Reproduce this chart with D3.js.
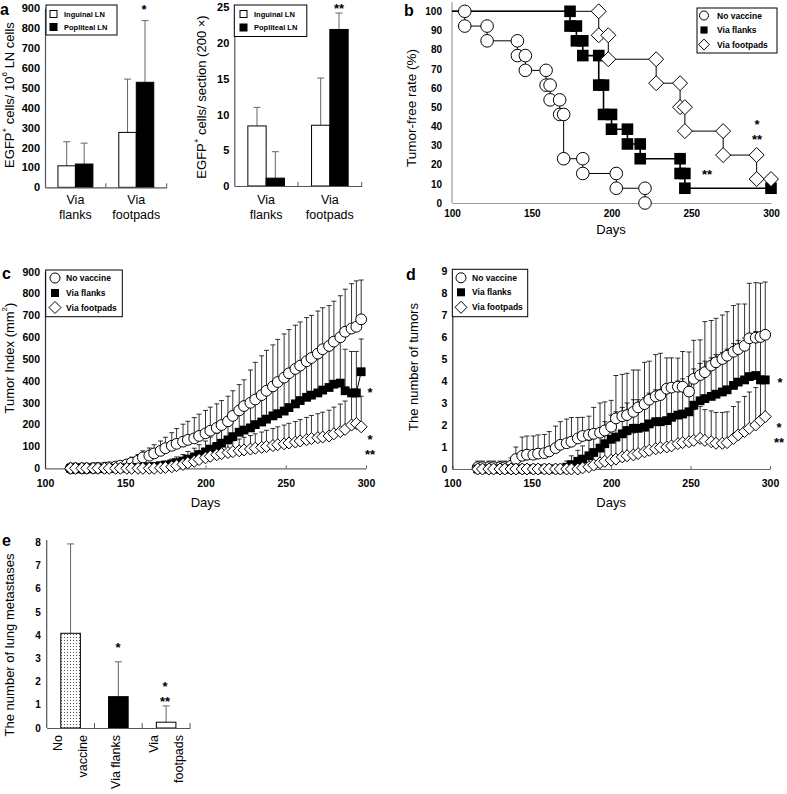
<!DOCTYPE html>
<html><head><meta charset="utf-8">
<script src="https://cdn.jsdelivr.net/npm/d3@7/dist/d3.min.js"></script>
<style>
html,body{margin:0;padding:0;background:#fff;}
svg text{font-family:"Liberation Sans",Arial,Helvetica,sans-serif;}
</style></head><body>
<svg id="fig" width="787" height="794"></svg>
<script>
// ================= DATA =================
// Panel a
const lnGroups = ["Via flanks", "Via footpads"];
const lnSeries = ["Inguinal LN", "Popliteal LN"];
const a1Inguinal = [108, 276];
const a1InguinalSD = [121, 268];
const a1Popliteal = [117, 528];
const a1PoplitealSD = [105, 310];
const a1Ticks = [0, 100, 200, 300, 400, 500, 600, 700, 800, 900];
const a2Inguinal = [8.4, 8.5];
const a2InguinalSD = [2.6, 6.6];
const a2Popliteal = [1.1, 21.9];
const a2PoplitealSD = [3.7, 2.3];
const a2Ticks = [0, 5, 10, 15, 20, 25];

// Panel b (Kaplan-Meier: day of each drop, tumor-free % after it)
const groupNames = ["No vaccine", "Via flanks", "Via footpads"];
const bNoVacDays = [108, 122, 141, 146, 159, 161.5, 167.5, 170, 182, 203, 221];
const bNoVacRate = [92.3, 84.6, 76.9, 69.2, 61.5, 53.8, 46.2, 23.1, 15.4, 7.7, 0];
const bFlankDays = [174, 178, 182, 192, 195, 200, 210, 218, 243, 246];
const bFlankRate = [92.3, 84.6, 76.9, 61.5, 46.2, 38.5, 30.8, 23.1, 15.4, 7.7];
const bFootDays = [192, 198, 228, 243, 246, 270, 291];
const bFootRate = [87.5, 75, 62.5, 50, 37.5, 25, 12.5];
const bEndDay = 300;
const dayTicks = [100, 150, 200, 250, 300];
const bTicksY = [0, 10, 20, 30, 40, 50, 60, 70, 80, 90, 100];

// Panels c, d (measurement days)
const tcDays = [116,119,123,126,130,133,137,140,144,147,151,154,158,161,165,168,172,175,179,182,186,189,193,196,200,203,207,210,214,217,221,224,228,231,235,238,242,245,249,252,256,259,263,266,270,273,277,280,284,287,291,294,297];
// c: tumor index (mm2)
const cNoVac = [0,0,0,0,1,2,3,5,8,12, 18,25,35,50,58,68,80,92,103,112, 122,130,137,148,160,172,185,198,215,240, 265,285,300,315,335,355,375,395,415,435, 455,470,490,505,525,545,560,580,600,625, 640,648,682];
const cNoVacSD = [0,0,0,0,3,5,8,10,15,18, 22,26,28,30,35,40,45,50,60,70, 80,85,95,100,105,108,110,112,115,115, 118,120,150,170,180,185,190,195,200,200, 200,200,200,195,195,190,185,185,190,195, 205,210,180];
const cFlank = [0,0,0,0,0,0,0,0,0,1, 2,3,4,5,7,9,12,15,20,26, 33,42,52,63,75,88,100,115,130,145, 165,175,185,200,212,225,240,250,262,278, 295,310,325,335,345,358,370,385,390,355, 345,345,442];
const cFlankSD = [0,0,0,0,0,0,0,0,0,2, 4,5,6,8,10,12,15,18,22,26, 30,35,40,45,50,55,60,65,72,80, 88,95,100,108,115,120,128,135,140,145, 150,155,160,165,170,175,180,185,190,190, 190,190,150];
const cFoot = [0,0,0,0,0,0,0,0,0,0, 0,0,0,0,0,0,2,4,7,12, 18,25,32,40,48,55,62,67,72,76, 80,84,88,92,96,100,104,108,112,116, 120,125,131,136,140,143,148,158,168,178, 198,205,190];
const cFootSD = [0,0,0,0,0,0,0,0,0,0, 0,0,0,0,0,0,3,5,8,10, 14,18,22,26,30,34,38,42,46,50, 54,58,62,66,70,74,78,82,86,90, 94,98,102,106,110,114,118,122,126,130, 135,140,140];
const cTicksY = [0, 100, 200, 300, 400, 500, 600, 700, 800, 900];
// d: number of tumors
const dNoVac = [0.08,0.08,0.08,0.08,0.08,0.08,0.15,0.45,0.6,0.65, 0.65,0.7,0.72,0.8,0.95,1.1,1.17,1.24,1.39,1.5, 1.55,1.6,1.65,1.75,1.92,2.3,2.4,2.45,2.6,2.8, 2.95,3.15,3.3,3.36,3.65,3.7,3.74,3.74,3.52,4.1, 4.27,4.4,4.7,4.85,5.0,5.15,5.33,5.45,5.6,5.94, 5.97,6.0,6.1];
const dNoVacSD = [0.28,0.28,0.28,0.28,0.28,0.28,0.35,0.55,0.85,0.85, 0.85,0.85,0.85,0.9,1.0,1.05,1.1,1.1,0.95,0.85, 0.85,1.2,1.35,1.3,1.2,1.95,1.9,1.9,1.9,1.7, 1.9,1.75,1.9,1.9,1.4,1.35,1.3,1.6,1.8,1.75, 1.6,2.3,2.05,2.0,2.0,2.0,2.1,2.05,1.9,2.5, 2.5,2.45,2.4];
const dFlank = [0,0,0,0,0,0,0,0,0,0, 0,0,0,0,0,0,0.08,0.2,0.35,0.45, 0.6,0.75,0.95,1.15,1.35,1.45,1.6,1.75,1.85,1.85, 1.9,2.05,2.15,2.15,2.2,2.35,2.45,2.5,2.6,2.9, 3.1,3.2,3.3,3.4,3.5,3.6,3.8,3.95,4.05,4.2, 4.25,4.05,4.05];
const dFlankSD = [0,0,0,0,0,0,0,0,0,0, 0,0,0,0,0,0,0.28,0.4,0.5,0.6, 0.7,0.8,0.9,1.0,1.1,1.15,1.2,1.25,1.3,1.3, 1.35,1.4,1.45,1.45,1.5,1.5,1.55,1.6,1.6,1.65, 1.7,1.7,1.75,1.8,1.8,1.85,1.9,1.9,1.9,1.95, 2.0,2.0,2.0];
const dFoot = [0,0,0,0,0,0,0,0,0,0, 0,0,0,0,0,0,0,0,0,0.05, 0.1,0.18,0.28,0.35,0.4,0.45,0.55,0.6,0.64,0.7, 0.78,0.85,0.92,0.97,1.0,1.05,1.15,1.2,1.24,1.3, 1.39,1.3,1.24,1.17,1.17,1.2,1.39,1.55,1.7,1.85, 2.0,2.2,2.38];
const dFootSD = [0,0,0,0,0,0,0,0,0,0, 0,0,0,0,0,0,0,0,0,0.35, 0.5,0.6,0.7,0.75,0.8,0.85,0.9,0.95,1.0,1.05, 1.1,1.15,1.2,1.25,1.3,1.3,1.35,1.4,1.4,1.4, 1.45,1.4,1.4,1.4,1.4,1.4,1.45,1.5,1.6,1.65, 1.7,1.75,1.8];
const dTicksY = [0, 1, 2, 3, 4, 5, 6, 7, 8, 9];

// Panel e
const eGroups = ["No vaccine", "Via flanks", "Via footpads"];
const eLabels = [["No", "vaccine"], ["Via flanks"], ["Via", "footpads"]];
const eMets = [4.08, 1.35, 0.25];
const eMetsSD = [3.85, 1.5, 0.7];
const eTicksY = [0, 1, 2, 3, 4, 5, 6, 7, 8];

// ================= DRAWING =================
const svg = d3.select("#fig");
const defs = svg.append("defs");
const pat = defs.append("pattern").attr("id", "dots").attr("width", 3).attr("height", 3)
  .attr("patternUnits", "userSpaceOnUse");
pat.append("rect").attr("width", 3).attr("height", 3).attr("fill", "#fff");
pat.append("rect").attr("x", 1).attr("y", 1).attr("width", 1).attr("height", 1).attr("fill", "#555");

function styleAxis(g, color, fs) {
  g.attr("font-size", fs).attr("font-weight", "bold").attr("font-family", null);
  g.select(".domain").attr("stroke", color).attr("stroke-width", 1.2);
  g.selectAll(".tick line").attr("stroke", color);
  g.selectAll(".tick text").attr("fill", "#000");
}
function letter(t, x, y) {
  svg.append("text").attr("x", x).attr("y", y).attr("font-size", 16).attr("font-weight", "bold").text(t);
}
// significance marks; a second mark is stacked below the first
function stars(lines, cx, cy) {
  lines.forEach((s, i) => {
    svg.append("text").attr("x", cx).attr("y", cy + 7 + i * 15).attr("text-anchor", "middle")
      .attr("font-size", 13).attr("font-weight", "bold").text(s);
  });
}
function yLabel(parts, cx, cy, fs) {
  const t = svg.append("text").attr("transform", `translate(${cx},${cy}) rotate(-90)`)
    .attr("text-anchor", "middle").attr("dominant-baseline", "central").attr("font-size", fs);
  parts.forEach(p => {
    if (typeof p === "string") t.append("tspan").text(p);
    else t.append("tspan").attr("font-size", fs * 0.62).attr("baseline-shift", "super").text(p.sup);
  });
}
function marker(sel, type, size) {
  if (type === "circle") {
    sel.append("circle").attr("r", size).attr("fill", "#fff").attr("stroke", "#000").attr("stroke-width", 1);
  } else if (type === "square") {
    sel.append("rect").attr("x", -size).attr("y", -size).attr("width", 2 * size).attr("height", 2 * size)
      .attr("fill", "#000");
  } else {
    sel.append("path").attr("d", `M0,${-size}L${size},0L0,${size}L${-size},0Z`)
      .attr("fill", "#fff").attr("stroke", "#000").attr("stroke-width", 1);
  }
}
function legend3(x0, y0, w, h, mx, tx, rows, fs, msz) {
  const g = svg.append("g");
  g.append("rect").attr("x", x0).attr("y", y0).attr("width", w).attr("height", h)
    .attr("fill", "#fff").attr("stroke", "#000").attr("stroke-width", 1);
  const types = ["circle", "square", "diamond"];
  groupNames.forEach((n, i) => {
    const yy = y0 + rows[i];
    const m = g.append("g").attr("transform", `translate(${mx},${yy})`);
    marker(m, types[i], i === 1 ? msz * 0.8 : (i === 2 ? msz * 1.2 : msz));
    g.append("text").attr("x", tx).attr("y", yy).attr("dominant-baseline", "central")
      .attr("font-size", fs).attr("font-weight", "bold").text(n);
  });
}

// ---------- Panel a ----------
function lnPanel(cfg) {
  const g = svg.append("g");
  const x = d3.scaleBand(lnGroups, [cfg.x0, cfg.x1]);
  const xs = d3.scaleBand(lnSeries, [0, x.bandwidth()]).paddingOuter(0.74);
  const y = d3.scaleLinear([0, cfg.ymax], [cfg.yb, cfg.yt]);
  const rows = lnGroups.flatMap((grp, i) => [
    { grp, ser: lnSeries[0], v: cfg.ing[i], sd: cfg.ingSD[i], fill: "#fff" },
    { grp, ser: lnSeries[1], v: cfg.pop[i], sd: cfg.popSD[i], fill: "#000" }]);
  rows.forEach(r => {
    const cx = x(r.grp) + xs(r.ser) + xs.bandwidth() / 2;
    g.append("line").attr("x1", cx).attr("x2", cx).attr("y1", y(r.v)).attr("y2", y(r.v + r.sd))
      .attr("stroke", "#666").attr("stroke-width", 1);
    g.append("line").attr("x1", cx - 3.5).attr("x2", cx + 3.5).attr("y1", y(r.v + r.sd)).attr("y2", y(r.v + r.sd))
      .attr("stroke", "#666").attr("stroke-width", 1);
  });
  g.selectAll("rect.bar").data(rows).join("rect").attr("class", "bar")
    .attr("x", r => x(r.grp) + xs(r.ser)).attr("width", xs.bandwidth())
    .attr("y", r => y(r.v)).attr("height", r => y(0) - y(r.v))
    .attr("fill", r => r.fill).attr("stroke", "#000").attr("stroke-width", 1);
  const ay = g.append("g").attr("transform", `translate(${cfg.x0},0)`)
    .call(d3.axisLeft(y).tickValues(cfg.ticks).tickSize(0).tickPadding(5).tickSizeOuter(0));
  styleAxis(ay, "#555", 11);
  const ax = g.append("g").attr("transform", `translate(0,${cfg.yb})`)
    .call(d3.axisBottom(x).tickSize(0).tickFormat("").tickSizeOuter(0));
  styleAxis(ax, "#555", 11);
  lnGroups.forEach(grp => {
    const bx = x(grp) + x.bandwidth();
    g.append("line").attr("x1", bx).attr("x2", bx).attr("y1", cfg.yb).attr("y2", cfg.yb - 4).attr("stroke", "#555");
    const cx = x(grp) + x.bandwidth() / 2;
    const parts = grp.split(" ");
    g.append("text").attr("x", cx).attr("y", 204).attr("text-anchor", "middle").attr("font-size", 12.5).text(parts[0]);
    g.append("text").attr("x", cx).attr("y", 218.5).attr("text-anchor", "middle").attr("font-size", 12.5).text(parts[1]);
  });
  const L = cfg.leg;
  g.append("rect").attr("x", L.x).attr("y", L.y).attr("width", L.w).attr("height", L.h)
    .attr("fill", "#fff").attr("stroke", "#000");
  lnSeries.forEach((s, i) => {
    const yy = L.y + L.rows[i];
    g.append("rect").attr("x", L.mx).attr("y", yy - 3.5).attr("width", 7).attr("height", 7)
      .attr("fill", i ? "#000" : "#fff").attr("stroke", "#000");
    g.append("text").attr("x", L.tx).attr("y", yy).attr("dominant-baseline", "central")
      .attr("font-size", 7.5).attr("font-weight", "bold").text(s);
  });
}
lnPanel({ x0: 45, x1: 166.7, yb: 187.3, yt: 8.3, ymax: 900, ticks: a1Ticks,
  ing: a1Inguinal, ingSD: a1InguinalSD, pop: a1Popliteal, popSD: a1PoplitealSD,
  leg: { x: 46, y: 5, w: 71, h: 30, mx: 50, tx: 64, rows: [9, 22] } });
lnPanel({ x0: 234.3, x1: 361.7, yb: 186, yt: 7.3, ymax: 25, ticks: a2Ticks,
  ing: a2Inguinal, ingSD: a2InguinalSD, pop: a2Popliteal, popSD: a2PoplitealSD,
  leg: { x: 234.3, y: 5, w: 72.5, h: 31.5, mx: 240, tx: 254, rows: [9, 22.5] } });
yLabel(["EGFP", { sup: "+" }, " cells/ 10", { sup: "6" }, " LN cells"], 9, 95, 13);
yLabel(["EGFP", { sup: "+" }, " cells/ section (200 \u00d7)"], 201, 97, 13);
letter("a", 0, 15);
stars(["*"], 144, 7);
stars(["**"], 339, 6);

// ---------- Panel b ----------
(function () {
  const g = svg.append("g");
  const x = d3.scaleLinear([100, 300], [452, 771]);
  const y = d3.scaleLinear([0, 100], [203, 11.3]);
  const ay = g.append("g").attr("transform", "translate(452,0)")
    .call(d3.axisLeft(y).tickValues(bTicksY).tickSize(0).tickPadding(10).tickSizeOuter(0));
  styleAxis(ay, "#999", 10);
  ay.select(".domain").attr("d", `M0,203V2`);
  const ax = g.append("g").attr("transform", "translate(0,203)")
    .call(d3.axisBottom(x).tickValues(dayTicks).tickSize(0).tickSizeOuter(0));
  styleAxis(ax, "#999", 10);
  ax.selectAll(".tick text").attr("y", 11).attr("dy", "0.32em");
  g.append("text").attr("x", 611).attr("y", 229).attr("text-anchor", "middle")
    .attr("dominant-baseline", "central").attr("font-size", 13).text("Days");
  const series = [
    { days: bNoVacDays, rate: bNoVacRate, end: null, type: "circle", size: 6.3 },
    { days: bFlankDays, rate: bFlankRate, end: bEndDay, type: "square", size: 5.8 },
    { days: bFootDays, rate: bFootRate, end: bEndDay, type: "diamond", size: 7.5 }];
  const line = d3.line().x(p => x(p.d)).y(p => y(p.r));
  series.forEach(s => {
    const pts = [{ d: 100, r: 100, m: false }];
    let prev = 100;
    s.days.forEach((t, i) => {
      pts.push({ d: t, r: prev, m: true });
      pts.push({ d: t, r: s.rate[i], m: true });
      prev = s.rate[i];
    });
    if (s.end) pts.push({ d: s.end, r: prev, m: true });
    s.pts = pts;
    g.append("path").attr("d", line(pts)).attr("fill", "none").attr("stroke", "#000")
      .attr("stroke-width", s.type === "square" ? 1.6 : 1);
  });
  series.forEach(s => {
    s.pts.filter(p => p.m).forEach(p => {
      const m = g.append("g").attr("transform", `translate(${x(p.d)},${y(p.r)})`);
      marker(m, s.type, s.size);
    });
  });
  yLabel(["Tumor-free rate (%)"], 411, 108, 13.5);
  legend3(697, 8, 80, 45, 704, 717, [7.5, 22, 36.5], 8.5, 4.5);
  letter("b", 404, 16);
  stars(["**"], 707, 172);
  stars(["*", "**"], 757, 122);
})();

// ---------- Panels c, d ----------
function timeCourse(cfg) {
  const g = svg.append("g");
  const x = d3.scaleLinear([100, 300], [cfg.x0, cfg.x1]);
  const y = d3.scaleLinear([0, cfg.ymax], [cfg.yb, cfg.yt]);
  const ax = g.append("g").attr("transform", `translate(0,${cfg.yb})`)
    .call(d3.axisBottom(x).tickValues(dayTicks).tickSize(-3).tickSizeOuter(0));
  styleAxis(ax, "#666", 10.5);
  ax.selectAll(".tick text").attr("y", 15).attr("dy", "0.32em");
  const ay = g.append("g").attr("transform", `translate(${cfg.x0},0)`)
    .call(d3.axisLeft(y).tickValues(cfg.yTicks).tickSize(0).tickPadding(5).tickSizeOuter(0));
  styleAxis(ay, "#333", 10.5);
  g.append("text").attr("x", (cfg.x0 + cfg.x1) / 2).attr("y", 502).attr("text-anchor", "middle")
    .attr("dominant-baseline", "central").attr("font-size", 13).text("Days");
  const types = ["circle", "square", "diamond"];
  const sizes = [5.4, 4.4, 6];
  const sers = cfg.series.map((s, i) => ({ v: s[0], sd: s[1], type: types[i], size: sizes[i] }));
  sers.forEach(s => {
    tcDays.forEach((d, i) => {
      if (s.sd[i] <= 0) return;
      const cx = x(d), y1 = y(s.v[i]), y2 = y(s.v[i] + s.sd[i]);
      g.append("line").attr("x1", cx).attr("x2", cx).attr("y1", y1).attr("y2", y2)
        .attr("stroke", "#000").attr("stroke-width", 0.8);
      g.append("line").attr("x1", cx - 2.5).attr("x2", cx + 2.5).attr("y1", y2).attr("y2", y2)
        .attr("stroke", "#000").attr("stroke-width", 0.8);
    });
  });
  const line = d3.line().x((d, i) => x(tcDays[i])).y(d => y(d));
  sers.forEach(s => {
    g.append("path").attr("d", line(s.v)).attr("fill", "none").attr("stroke", "#000").attr("stroke-width", 1);
  });
  sers.forEach(s => {
    s.v.forEach((v, i) => {
      const m = g.append("g").attr("transform", `translate(${x(tcDays[i])},${y(v)})`);
      marker(m, s.type, s.size);
    });
  });
}
timeCourse({ x0: 45, x1: 366, yb: 468.3, yt: 271.7, ymax: 900, yTicks: cTicksY,
  series: [[cNoVac, cNoVacSD], [cFlank, cFlankSD], [cFoot, cFootSD]] });
timeCourse({ x0: 452.3, x1: 770, yb: 469, yt: 271, ymax: 9, yTicks: dTicksY,
  series: [[dNoVac, dNoVacSD], [dFlank, dFlankSD], [dFoot, dFootSD]] });
legend3(45.7, 270, 76.6, 46.7, 55, 66, [8, 23, 37.5], 8.5, 5);
legend3(452.3, 269.3, 75.4, 47.4, 461, 472, [8.5, 23, 38], 8.5, 5);
yLabel(["Tumor Index (mm", { sup: "2" }, ")"], 9, 358, 13);
yLabel(["The number of tumors"], 412.5, 367, 13);
letter("c", 2, 279);
letter("d", 406, 280);
stars(["*"], 370, 390);
stars(["*", "**"], 370, 437);
stars(["*"], 780, 380);
stars(["*", "**"], 779, 425);

// ---------- Panel e ----------
(function () {
  const g = svg.append("g");
  const x = d3.scaleBand(eGroups, [46.7, 190]);
  const y = d3.scaleLinear([0, 8], [728, 542.3]);
  const bw = x.bandwidth() * 0.41;
  const fills = ["url(#dots)", "#000", "#fff"];
  eGroups.forEach((grp, i) => {
    const cx = x(grp) + x.bandwidth() / 2;
    const top = y(eMets[i] + eMetsSD[i]);
    g.append("line").attr("x1", cx).attr("x2", cx).attr("y1", y(eMets[i])).attr("y2", top)
      .attr("stroke", "#666").attr("stroke-width", 1);
    g.append("line").attr("x1", cx - 3.5).attr("x2", cx + 3.5).attr("y1", top).attr("y2", top)
      .attr("stroke", "#666").attr("stroke-width", 1);
  });
  g.selectAll("rect.bar").data(eGroups).join("rect").attr("class", "bar")
    .attr("x", d => x(d) + x.bandwidth() / 2 - bw / 2).attr("width", bw)
    .attr("y", (d, i) => y(eMets[i])).attr("height", (d, i) => y(0) - y(eMets[i]))
    .attr("fill", (d, i) => fills[i]).attr("stroke", "#000").attr("stroke-width", 1);
  const ay = g.append("g").attr("transform", "translate(46.7,0)")
    .call(d3.axisLeft(y).tickValues(eTicksY).tickSize(0).tickPadding(6).tickSizeOuter(0));
  styleAxis(ay, "#555", 10);
  ay.select(".domain").attr("d", "M0,728V540");
  const ax = g.append("g").attr("transform", "translate(0,728)")
    .call(d3.axisBottom(x).tickSize(0).tickFormat("").tickSizeOuter(0));
  styleAxis(ax, "#555", 10);
  eGroups.forEach((grp, i) => {
    const bx = x(grp) + x.bandwidth();
    g.append("line").attr("x1", bx).attr("x2", bx).attr("y1", 728).attr("y2", 723).attr("stroke", "#555");
    const cx = x(grp) + x.bandwidth() / 2;
    const lines = eLabels[i];
    lines.forEach((t, j) => {
      const off = lines.length === 1 ? -2 : (j === 0 ? -12.5 : 12.5);
      g.append("text").attr("transform", `translate(${cx + off},735) rotate(-90)`)
        .attr("text-anchor", "end").attr("dominant-baseline", "central")
        .attr("font-size", 12.5).text(t);
    });
  });
  yLabel(["The number of lung metastases"], 9, 645, 13);
  letter("e", 2, 546);
  stars(["*"], 118, 645);
  stars(["*", "**"], 165, 684);
})();
</script>
</body></html>
